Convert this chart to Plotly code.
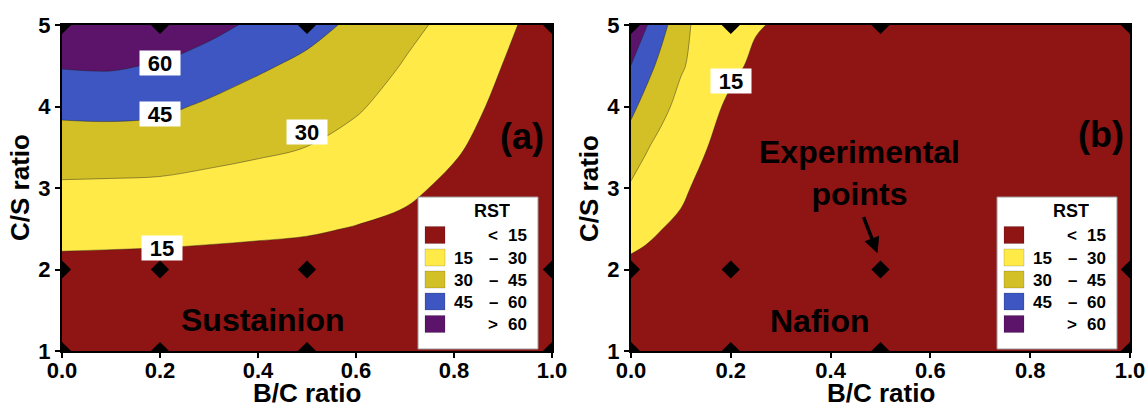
import plotly.graph_objects as go

# ---------------- data ----------------
# Panel (a) Sustainion: RST values read from contour positions
XA = [0.0, 0.1, 0.2, 0.3, 0.4, 0.5, 0.6, 0.7, 0.8, 0.9, 1.0]
YA = [1.0, 1.5, 2.0, 2.5, 3.0, 3.5, 4.0, 4.5, 5.0]
ZA = [
    [0, 0, 0, 0, 0, 0, 0, 0, 0, 0, 0],
    [6, 5.6, 5.4, 5, 4.8, 4.6, 4.2, 4, 4, 3.5, 3],
    [11.5, 11.1, 10.8, 10.3, 10, 9.6, 8.5, 8.5, 8, 7, 5],
    [19.3, 19.1, 18.7, 18.0, 17.1, 16.2, 14.5, 12.9, 10.5, 8.5, 6],
    [28, 27.6, 27.2, 26.0, 24.7, 23.1, 20.2, 16.9, 13, 9.7, 7],
    [37.8, 37.8, 37.1, 34.3, 32.1, 29.9, 25.8, 21, 16.2, 11, 7.5],
    [48.6, 49.2, 47.9, 42.9, 39.2, 36.1, 31.4, 25, 19.5, 12.5, 8],
    [61, 61.6, 58.9, 53.4, 46.8, 42.2, 37, 29.1, 22.9, 14.8, 8.5],
    [74, 74.5, 70.8, 64.4, 57, 49.3, 42.5, 33.5, 26.2, 17.7, 8.7],
]

# Panel (b) Nafion
XB = [0.0, 0.03, 0.06, 0.1, 0.15, 0.2, 0.25, 0.3, 0.4, 0.6, 0.8, 1.0]
YB = [1.0, 1.5, 2.0, 2.5, 3.0, 3.5, 4.0, 4.5, 5.0]
ZB = [
    [0, 0, 0, 0, 0, 0, 0, 0, 0, 0, 0, 0],
    [6, 5.8, 5.6, 5.4, 5.2, 5, 4.8, 4.6, 4.2, 3.5, 2.5, 2],
    [12, 11, 10.3, 9.8, 9.2, 8.8, 8.4, 8, 7, 5, 3.5, 2.5],
    [19.9, 17.6, 15.2, 13.2, 11.5, 10.5, 9.8, 9.2, 8, 5.5, 4, 3],
    [28.3, 24.9, 21.4, 16.8, 12, 11.5, 10.5, 9.8, 8.5, 6, 4.5, 3.5],
    [38, 31, 26.6, 21.5, 15.3, 12, 11, 10.3, 9, 6.5, 4.8, 3.8],
    [48.4, 40.3, 33.3, 26.4, 19.4, 12.5, 11.5, 10.8, 9.5, 7, 5, 4],
    [59.8, 50.1, 41.4, 31.3, 24.3, 17.9, 12.5, 11.5, 10, 7.5, 5.5, 4.5],
    [71.8, 61.1, 49.6, 36.3, 20.5, 18.5, 16, 13.5, 11, 8, 6, 5],
]

# Experimental points
EXP_X = [0.0, 0.2, 0.5, 1.0]
EXP_Y = [1, 2, 5]

LEVELS = [15, 30, 45, 60]
BAND_COLORS = ["#8F1414", "#FFEA48", "#D3BF26", "#3D56C1", "#5B146A"]
LEGEND_LOW = ["", "15", "30", "45", ""]
LEGEND_SYM = ["<", "\u2013", "\u2013", "\u2013", ">"]
LEGEND_HIGH = ["15", "30", "45", "60", "60"]

LABELS_A = [("60", 0.2, 4.53), ("45", 0.2, 3.91), ("30", 0.5, 3.69), ("15", 0.205, 2.27)]
LABELS_B = [("15", 0.2, 4.31)]

XTICKS = [0.0, 0.2, 0.4, 0.6, 0.8, 1.0]
YTICKS = [1, 2, 3, 4, 5]

# ---------------- layout helpers ----------------
W, H = 1148, 405
TOP, BOT = 25, 351
FONT = "Liberation Sans, Arial, sans-serif"


def pxx(p):
    return p / W


def pxy(p):
    return (BOT - p) / (BOT - TOP)


# discrete colorscale: contour fill domain maps [0,1] -> [0,60]
cs = [
    [0.0, BAND_COLORS[0]], [0.25, BAND_COLORS[0]],
    [0.25, BAND_COLORS[1]], [0.5, BAND_COLORS[1]],
    [0.5, BAND_COLORS[2]], [0.75, BAND_COLORS[2]],
    [0.75, BAND_COLORS[3]], [0.95, BAND_COLORS[3]],
    [0.95, BAND_COLORS[4]], [1.0, BAND_COLORS[4]],
]

fig = go.Figure()


def add_panel(x, y, z, xa, ya):
    fig.add_trace(go.Contour(
        x=x, y=y, z=z, xaxis=xa, yaxis=ya,
        contours=dict(start=LEVELS[0], end=LEVELS[-1], size=15, coloring="fill", showlines=True),
        line=dict(width=0.6, color="rgba(30,30,30,0.7)", smoothing=1),
        colorscale=cs, showscale=False, hoverinfo="skip",
    ))
    px, py = [], []
    for yy in EXP_Y:
        for xx in EXP_X:
            px.append(xx)
            py.append(yy)
    fig.add_trace(go.Scatter(
        x=px, y=py, xaxis=xa, yaxis=ya, mode="markers",
        marker=dict(symbol="diamond", size=14, color="black"),
        cliponaxis=True, showlegend=False, hoverinfo="skip",
    ))


add_panel(XA, YA, ZA, "x", "y")
add_panel(XB, YB, ZB, "x2", "y2")

tickfont = dict(family=FONT, size=22, color="black", weight="bold")
axis_common = dict(
    ticks="outside", ticklen=5, tickwidth=2, tickcolor="black",
    showline=True, linewidth=2, linecolor="black", mirror=True,
    showgrid=False, zeroline=False, tickfont=tickfont, automargin=False,
)

PA = (62, 552)
PB = (631, 1130)

fig.update_layout(
    width=W, height=H,
    margin=dict(l=0, r=0, t=TOP, b=H - BOT, autoexpand=False),
    paper_bgcolor="white", plot_bgcolor=BAND_COLORS[0],
    showlegend=False,
    xaxis=dict(domain=[pxx(PA[0]), pxx(PA[1])], range=[0, 1], anchor="y",
               tickvals=XTICKS, tickformat=".1f", ticklabelstandoff=-6, **axis_common),
    yaxis=dict(domain=[0, 1], range=[1, 5], anchor="x", tickvals=YTICKS, **axis_common),
    xaxis2=dict(domain=[pxx(PB[0]), pxx(PB[1])], range=[0, 1], anchor="y2",
                tickvals=XTICKS, tickformat=".1f", ticklabelstandoff=-6, **axis_common),
    yaxis2=dict(domain=[0, 1], range=[1, 5], anchor="x2", tickvals=YTICKS, **axis_common),
)

ann = []
shapes = []

# axis titles
for (l, r), ytx in [(PA, 20), (PB, 589)]:
    ann.append(dict(text="<b>B/C ratio</b>", xref="paper", yref="paper",
                    x=pxx((l + r) / 2), y=pxy(393), xanchor="center", yanchor="middle",
                    height=20, borderpad=0, showarrow=False,
                    font=dict(family=FONT, size=26, color="black")))
    ann.append(dict(text="<b>C/S ratio</b>", xref="paper", yref="paper",
                    x=pxx(ytx), y=pxy(188), xanchor="center", yanchor="middle",
                    textangle=-90, showarrow=False, font=dict(family=FONT, size=26, color="black")))

# panel letters and names
ann.append(dict(text="<b>(a)</b>", xref="x", yref="y", x=0.938, y=3.63, showarrow=False,
                font=dict(family=FONT, size=36, color="black")))
ann.append(dict(text="<b>(b)</b>", xref="x2", yref="y2", x=0.941, y=3.66, showarrow=False,
                font=dict(family=FONT, size=36, color="black")))
ann.append(dict(text="<b>Sustainion</b>", xref="x", yref="y", x=0.41, y=1.38, showarrow=False,
                font=dict(family=FONT, size=32, color="black")))
ann.append(dict(text="<b>Nafion</b>", xref="x2", yref="y2", x=0.378, y=1.37, showarrow=False,
                font=dict(family=FONT, size=32, color="black")))
ann.append(dict(text="<b>Experimental<br>points</b>", xref="x2", yref="y2", x=0.457, y=3.185,
                showarrow=False, font=dict(family=FONT, size=32, color="black")))
ann.append(dict(text="", xref="x2", yref="y2", x=0.494, y=2.2, axref="x2", ayref="y2",
                ax=0.465, ay=2.66, showarrow=True, arrowhead=2, arrowsize=0.9,
                arrowwidth=3.5, arrowcolor="black"))

# contour value labels
for lbls, xr, yr in [(LABELS_A, "x", "y"), (LABELS_B, "x2", "y2")]:
    for t, lx, ly in lbls:
        ann.append(dict(text="<b>%s</b>" % t, xref=xr, yref=yr, x=lx, y=ly, showarrow=False,
                        xanchor="center", yanchor="middle",
                        bgcolor="white", width=40, height=24, borderpad=0,
                        font=dict(family=FONT, size=22, color="black")))

# legends
ROW_Y = [235, 257.5, 279.5, 301.5, 324]
for left in [418, 997]:
    shapes.append(dict(type="rect", xref="paper", yref="paper",
                       x0=pxx(left), x1=pxx(left + 120), y0=pxy(197), y1=pxy(349),
                       fillcolor="white", line=dict(color="#9a9a9a", width=1), layer="above"))
    ann.append(dict(text="<b>RST</b>", xref="paper", yref="paper", x=pxx(left + 74), y=pxy(211),
                    xanchor="center", yanchor="middle",
                    showarrow=False, height=18, font=dict(family=FONT, size=18, color="black")))
    for i, ry in enumerate(ROW_Y):
        shapes.append(dict(type="rect", xref="paper", yref="paper",
                           x0=pxx(left + 7), x1=pxx(left + 27), y0=pxy(ry + 8.5), y1=pxy(ry - 8.5),
                           fillcolor=BAND_COLORS[i], line=dict(color="rgba(0,0,0,0.15)", width=1),
                           layer="above"))
        for txt, cx in [(LEGEND_LOW[i], 45), (LEGEND_SYM[i], 75), (LEGEND_HIGH[i], 99)]:
            if txt:
                ann.append(dict(text="<b>%s</b>" % txt, xref="paper", yref="paper",
                                x=pxx(left + cx), y=pxy(ry), xanchor="center", yanchor="middle",
                                showarrow=False, height=18, borderpad=0,
                                font=dict(family=FONT, size=17, color="black")))

fig.update_layout(annotations=ann, shapes=shapes)
fig.write_html("out.html")
